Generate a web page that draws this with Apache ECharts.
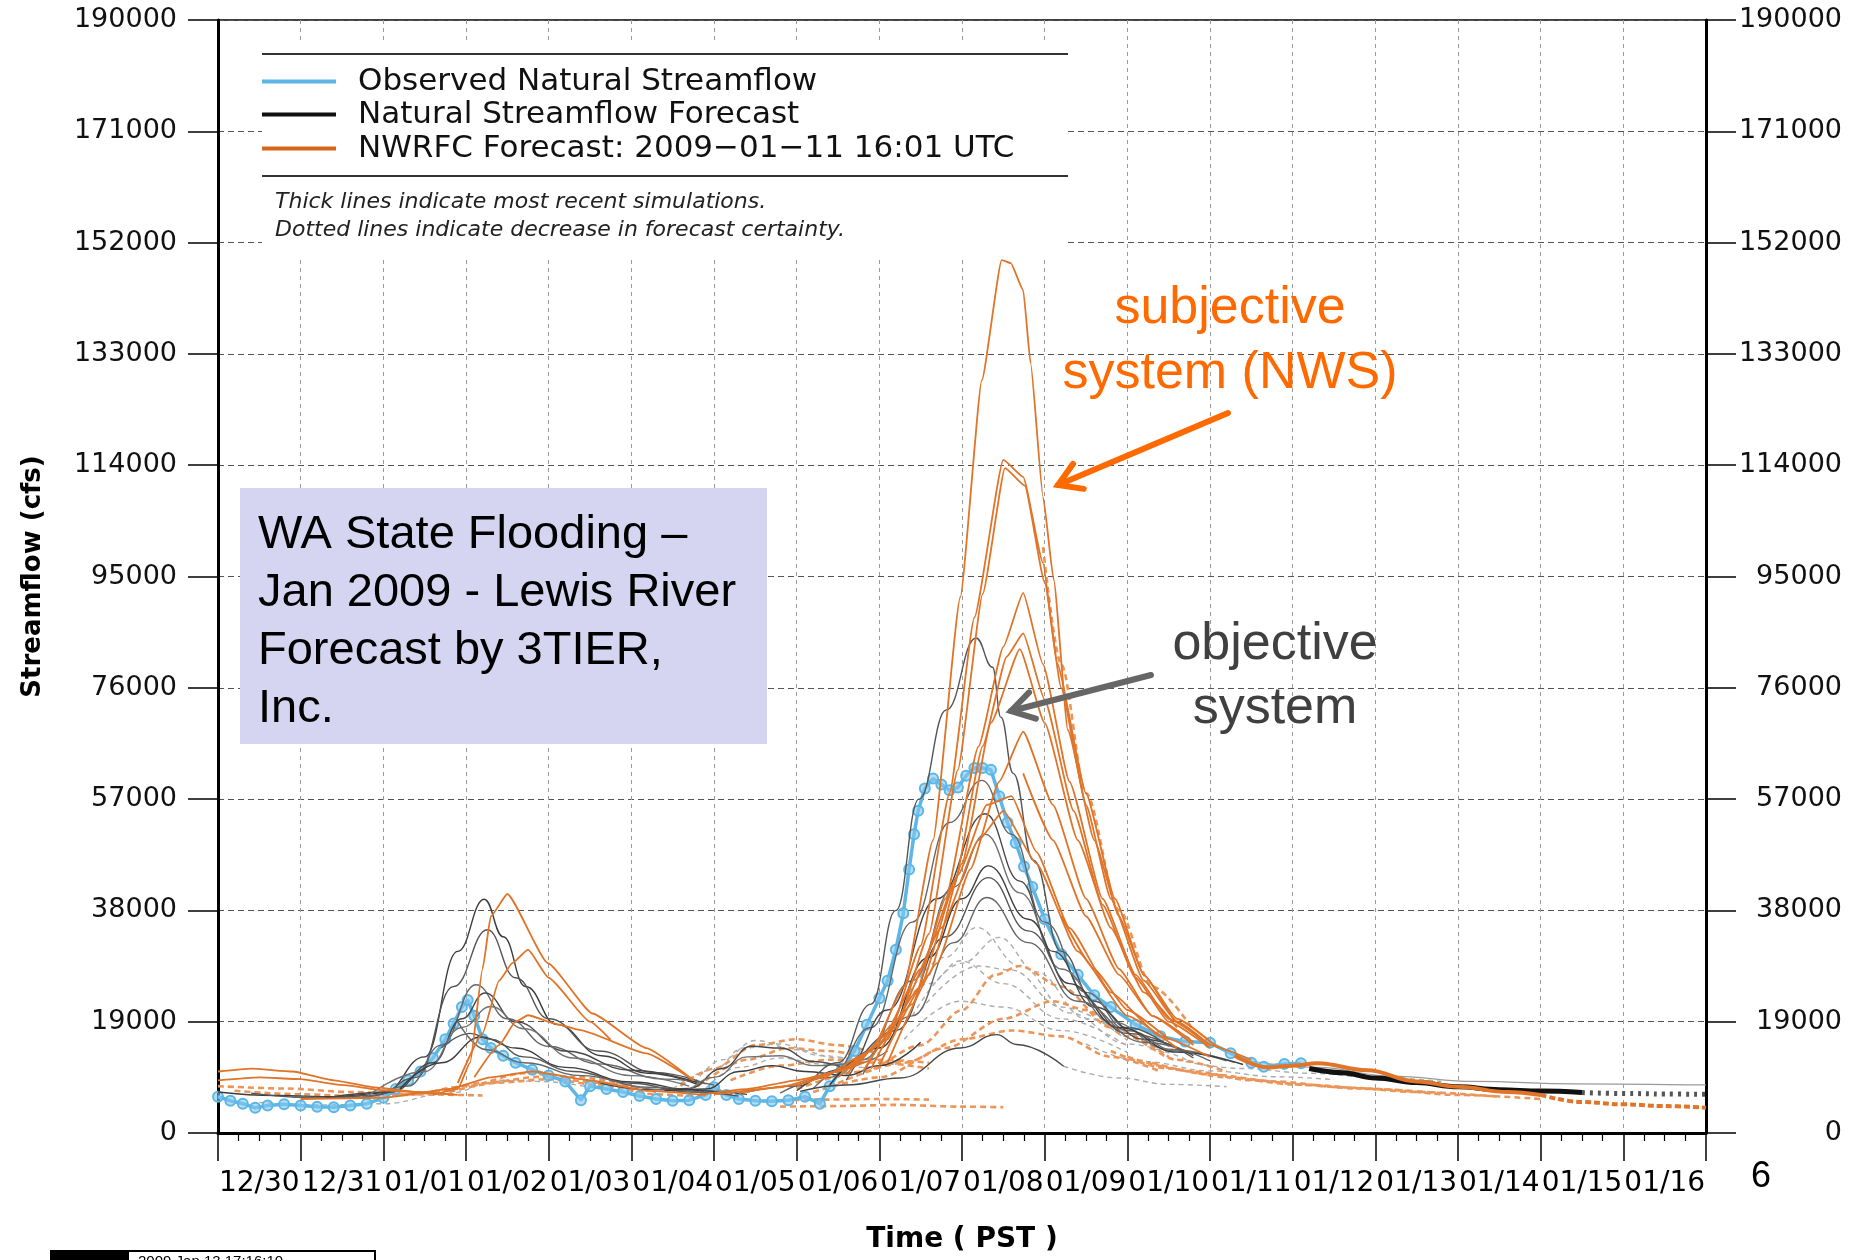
<!DOCTYPE html>
<html>
<head>
<meta charset="utf-8">
<title>Lewis River streamflow forecasts</title>
<script src="https://cdn.jsdelivr.net/npm/echarts@6/dist/echarts.min.js"></script>
<style>
  html, body { margin: 0; padding: 0; background: #fff; }
  #chart { width: 1851px; height: 1260px; }
</style>
</head>
<body>
<div id="chart"></div>
<script>
// x values are days since 12/30 00:00 PST, y values are cfs

var dayLabels = ['12/30', '12/31', '01/01', '01/02', '01/03', '01/04', '01/05', '01/06', '01/07',
                 '01/08', '01/09', '01/10', '01/11', '01/12', '01/13', '01/14', '01/15', '01/16'];

var obsFlow = [
  [0.0, 6200], [0.15, 5500], [0.3, 5000], [0.45, 4300], [0.6, 4700], [0.8, 4900], [1.0, 4700],
  [1.2, 4500], [1.4, 4400], [1.6, 4700], [1.8, 5000], [2.0, 6000], [2.15, 7500], [2.3, 9000],
  [2.45, 10500], [2.6, 12800], [2.75, 16000], [2.85, 18700], [2.95, 21500], [3.02, 22700],
  [3.1, 20000], [3.2, 16000], [3.3, 14500], [3.45, 13200], [3.6, 12000], [3.8, 10800], [4.0, 9800],
  [4.2, 8800], [4.39, 5600], [4.5, 8000], [4.7, 7500], [4.9, 7000], [5.1, 6300], [5.3, 5800],
  [5.5, 5500], [5.7, 5600], [5.9, 6500], [6.0, 7800], [6.15, 6500], [6.3, 5800], [6.5, 5500],
  [6.7, 5400], [6.9, 5600], [7.1, 6200], [7.28, 5000], [7.4, 8000], [7.55, 11000], [7.7, 14000],
  [7.85, 18500], [8.0, 23000], [8.1, 26000], [8.2, 31300], [8.29, 37500], [8.36, 45000],
  [8.42, 51000], [8.47, 55000], [8.55, 58800], [8.65, 60500], [8.75, 59500], [8.85, 58500],
  [8.95, 59000], [9.05, 61000], [9.15, 62300], [9.25, 62300], [9.35, 62000], [9.45, 57500],
  [9.55, 53000], [9.65, 49500], [9.75, 45500], [9.85, 42000], [10.0, 36500], [10.2, 30500],
  [10.4, 27000], [10.6, 23500], [10.8, 21500], [11.1, 18500], [11.4, 16500], [11.7, 15600],
  [12.0, 15400], [12.25, 13600], [12.5, 12000], [12.65, 11300], [12.9, 11800], [13.1, 11900]
];

// natural streamflow forecasts (3TIER), solid part
var natSolid = [
  [[0, 7000], [0.7, 6400], [1.4, 6200], [2.0, 6800], [2.5, 13000], [2.9, 31000], [3.22, 39900], [3.45, 33500], [3.72, 25000], [4.1, 18500], [4.64, 13200], [5.2, 10200], [5.8, 8300]],
  [[0.4, 6800], [1.2, 6000], [1.9, 6400], [2.4, 9500], [2.85, 25000], [3.26, 34700], [3.6, 26500], [4.0, 19500], [4.6, 14000], [5.3, 10300], [5.9, 8400]],
  [[0.9, 6200], [1.7, 6000], [2.3, 8000], [2.7, 15000], [3.12, 25300], [3.5, 19500], [4.0, 14800], [4.6, 11800], [5.4, 9200], [6.0, 8200]],
  [[1.3, 6000], [2.1, 7000], [2.6, 12000], [2.95, 19500], [3.23, 23900], [3.6, 19000], [4.2, 14000], [5.0, 10700], [5.8, 8600]],
  [[1.8, 6200], [2.5, 10500], [2.95, 18000], [3.3, 21600], [3.7, 17800], [4.3, 12800], [5.0, 9800], [5.7, 8000]],
  [[2.2, 7500], [2.7, 12000], [3.18, 16400], [3.6, 14500], [4.2, 11200], [5.0, 8700], [5.8, 7200], [6.4, 6600]],
  [[2.7, 14500], [3.05, 17000], [3.3, 16000], [3.7, 13000], [4.3, 10500], [5.0, 8500], [5.7, 7000], [6.3, 6300]],
  [[2.9, 19000], [3.25, 14200], [3.7, 12000], [4.4, 9800], [5.2, 7800], [5.9, 6800]],
  [[4.6, 8600], [5.2, 7400], [5.7, 7600], [6.1, 11000], [6.45, 14800], [6.8, 14500], [7.2, 12200], [7.6, 11000]],
  [[5.0, 8000], [5.6, 7200], [6.0, 9500], [6.4, 13000], [6.8, 13200], [7.2, 11500], [7.7, 11800], [8.1, 14000]],
  [[5.4, 7200], [5.9, 7500], [6.3, 10500], [6.7, 11500], [7.1, 10500], [7.6, 9800], [8.0, 11500], [8.5, 15500]],
  [[6.4, 7000], [7.0, 8000], [7.5, 12000], [7.9, 22000], [8.2, 38000], [8.48, 57000], [8.81, 72200], [9.17, 84500], [9.37, 79500], [9.47, 71000], [9.62, 61400], [9.86, 46600], [10.2, 31000], [10.6, 22500], [11.0, 18000], [11.5, 14800]],
  [[6.8, 6800], [7.4, 9500], [7.9, 18000], [8.4, 36000], [8.85, 53000], [9.24, 60200], [9.6, 51000], [10.0, 36000], [10.5, 24000], [11.0, 17500], [11.6, 14000], [12.2, 12300]],
  [[7.0, 7200], [7.6, 11000], [8.1, 21000], [8.7, 40000], [9.28, 54500], [9.7, 43000], [10.1, 31000], [10.6, 21500], [11.2, 16000], [11.8, 13200]],
  [[7.2, 7600], [7.8, 12500], [8.4, 26000], [8.9, 42000], [9.28, 51000], [9.7, 41000], [10.2, 28000], [10.8, 19000], [11.5, 14300], [12.3, 12000]],
  [[7.4, 8200], [8.0, 14500], [8.6, 30000], [9.0, 40000], [9.32, 45600], [9.8, 36500], [10.3, 25500], [10.9, 18000], [11.6, 13800], [12.4, 11700]],
  [[7.6, 9000], [8.2, 17500], [8.8, 33500], [9.32, 43600], [9.8, 34500], [10.4, 23500], [11.0, 17000], [11.8, 12800]],
  [[7.8, 10000], [8.4, 20000], [8.9, 32500], [9.3, 40200], [9.8, 32500], [10.4, 22500], [11.2, 15500], [12.0, 12300]],
  [[7.04, 7100], [7.6, 8200], [8.25, 9400], [8.98, 14500], [9.42, 16800], [9.66, 15100], [10.23, 11400]]
];

var natFaint = [
  [[12.4, 12500], [13.3, 11200], [14.2, 9700], [15.2, 8800], [16.4, 8400], [18, 8200]]
];

// natural forecasts, less certain (dotted) part
var natDotted = [
  [[10.23, 11400], [10.9, 9400], [11.5, 8300], [12.2, 7900]],
  [[8.2, 20000], [8.8, 30000], [9.18, 35100], [9.7, 28500], [10.3, 20500], [11.0, 15200], [11.8, 12000]],
  [[8.4, 20000], [9.0, 29000], [9.45, 33400], [9.9, 27500], [10.5, 19500], [11.3, 14200]],
  [[8.0, 15000], [8.6, 25500], [8.98, 29400], [9.5, 25500], [10.2, 19500], [11.0, 14800]],
  [[8.3, 16000], [8.98, 22500], [9.5, 21500], [10.2, 17500], [11.0, 13700]],
  [[8.5, 21000], [9.2, 28500], [9.6, 27800], [10.2, 21500], [11.0, 15800]],
  [[5.5, 7500], [6.0, 10800], [6.35, 14500], [6.8, 15200], [7.3, 13200], [7.8, 12200]],
  [[5.7, 7200], [6.1, 12500], [6.5, 15800], [7.0, 14200], [7.5, 12800], [8.0, 12500]],
  [[5.9, 7600], [6.3, 11200], [6.8, 12800], [7.3, 11800], [7.8, 11200], [8.3, 12500]],
  [[10.5, 15200], [11.2, 12200], [12.0, 10600], [12.8, 9600], [13.5, 9100]],
  [[0.5, 5200], [1.3, 4800], [2.0, 5000], [2.8, 6800], [3.4, 9000], [3.9, 8800], [4.5, 7800]],
  [[11.6, 12500], [12.4, 11000], [13.2, 10200], [14.0, 9500], [14.8, 8800]]
];

// NWRFC forecasts, solid part
var rfcSolid = [
  [[0, 10500], [0.4, 11000], [0.9, 10500], [1.4, 9000], [1.9, 7800], [2.4, 7000], [2.9, 6500]],
  [[0, 9000], [0.5, 9500], [1.0, 9200], [1.5, 8200], [2.0, 7300], [2.6, 6800]],
  [[2.6, 6500], [2.9, 7500], [3.05, 12000], [3.2, 28000], [3.3, 37000], [3.5, 40800], [3.99, 29000], [4.53, 20400], [5.18, 14500], [5.75, 9000]],
  [[2.9, 8500], [3.2, 17000], [3.4, 26000], [3.56, 29000], [3.75, 31300], [4.0, 26500], [4.5, 19000], [4.75, 15900]],
  [[3.1, 9500], [3.4, 15000], [3.6, 19000], [3.75, 20100], [4.1, 18600], [4.37, 17600], [5.18, 13600], [5.75, 9000]],
  [[1.0, 5800], [2.0, 6000], [2.8, 7500], [3.3, 9500], [3.8, 10500], [4.5, 9000], [5.2, 7200], [5.9, 6500]],
  [[5.8, 6500], [6.4, 7500], [7.0, 9000], [7.5, 10500], [7.9, 12500]],
  [[7.3, 9000], [7.9, 14000], [8.3, 25000], [8.65, 50000], [8.98, 91500], [9.24, 128500], [9.48, 149000], [9.59, 148500], [9.74, 143900], [9.83, 131400], [9.98, 108600], [10.11, 94400], [10.28, 68800], [10.6, 50000], [10.9, 37000], [11.2, 27000], [11.6, 19000], [12.0, 15000], [12.5, 12500]],
  [[7.5, 9500], [8.1, 16000], [8.5, 32000], [8.85, 58000], [9.15, 88000], [9.5, 114900], [9.74, 112000], [9.98, 97300], [10.15, 80200], [10.5, 58000], [10.85, 40000], [11.2, 27000], [11.6, 19500], [12.1, 14500]],
  [[7.6, 10000], [8.2, 18000], [8.6, 34000], [8.95, 62000], [9.25, 92000], [9.52, 113500], [9.76, 110500], [10.0, 94000], [10.2, 76000], [10.5, 56000], [10.8, 40000], [11.2, 26000], [11.6, 19000], [12.0, 15000]],
  [[7.8, 10500], [8.4, 22000], [8.8, 40000], [9.2, 66000], [9.5, 83000], [9.74, 92200], [9.98, 80000], [10.3, 60000], [10.7, 40000], [11.1, 27000], [11.5, 19500], [12.0, 15000]],
  [[7.9, 11000], [8.5, 25000], [8.9, 42000], [9.25, 66000], [9.54, 81300], [9.74, 85300], [10.0, 74000], [10.35, 55000], [10.7, 39000], [11.1, 26500], [11.5, 19000], [12.0, 14500]],
  [[8.0, 11500], [8.6, 27000], [9.0, 46000], [9.35, 70000], [9.7, 82600], [10.0, 70000], [10.4, 50000], [10.8, 35000], [11.2, 24000], [11.6, 18000]],
  [[8.1, 12000], [8.7, 29000], [9.1, 45000], [9.45, 60000], [9.74, 68500], [10.1, 56000], [10.5, 40000], [10.9, 28000], [11.3, 20000], [11.8, 15500]],
  [[9.74, 61400], [10.1, 50000], [10.5, 37000], [10.9, 27000], [11.3, 20000], [11.8, 15000]],
  [[10.2, 37000], [10.6, 28000], [11.0, 21000], [11.5, 16000]],
  [[6.0, 6600], [6.8, 7800], [7.5, 10500], [8.0, 15000], [8.5, 28000], [8.95, 44000], [9.3, 56000], [9.6, 57500], [9.9, 48000], [10.3, 35000], [10.8, 24000], [11.4, 16500], [12.0, 13000]],
  [[6.3, 6800], [7.0, 8200], [7.7, 11500], [8.2, 19000], [8.75, 35000], [9.2, 50000], [9.5, 55000], [9.9, 46000], [10.4, 31000], [11.0, 20000], [11.6, 14500]]
];

// NWRFC forecasts, dotted part
var rfcDotted = [
  [[0.2, 7200], [1.0, 6600], [1.8, 6200], [2.5, 6800], [3.2, 8500], [3.9, 9600], [4.6, 8600], [5.3, 7000]],
  [[1.5, 6000], [2.3, 6500], [3.0, 8000], [3.7, 10200], [4.3, 9600], [5.0, 8100]],
  [[2.8, 7000], [3.4, 8600], [4.0, 9200], [4.6, 8200], [5.3, 6600], [5.9, 6100]],
  [[0, 8000], [0.8, 7600], [1.6, 7000], [2.4, 6600], [3.2, 6400]],
  [[5.5, 7000], [6.0, 11000], [6.5, 15000], [7.0, 16000], [7.5, 15000], [8.0, 13500]],
  [[5.8, 8000], [6.4, 12500], [6.9, 14500], [7.4, 14000], [8.0, 12500], [8.6, 12000]],
  [[6.2, 9000], [6.8, 11500], [7.4, 12500], [8.0, 12000], [8.6, 11000]],
  [[6.8, 4500], [7.5, 4600], [8.2, 4800], [9.0, 4500], [9.5, 4400]],
  [[6.6, 5500], [7.3, 5700], [8.0, 5800], [8.6, 5700]],
  [[7.0, 7500], [7.8, 10500], [8.5, 15000], [9.0, 21000], [9.4, 27000], [9.7, 28500], [10.2, 25000], [10.8, 18000], [11.5, 13000]],
  [[7.2, 7000], [8.0, 9500], [8.8, 14500], [9.5, 19500], [10.1, 22500], [10.5, 21000], [11.0, 16500], [11.6, 12500], [12.2, 10500]],
  [[7.5, 8500], [8.3, 12000], [9.0, 16000], [9.6, 17500], [10.2, 16500], [10.8, 13000], [11.4, 10500]],
  [[9.98, 100000], [10.2, 80000], [10.5, 58000], [10.9, 38000], [11.3, 25000], [11.8, 17500]],
  [[11.0, 13000], [11.8, 10500], [12.5, 9000], [13.2, 8200], [14.0, 7500], [15.0, 6500], [16.0, 5800]],
  [[11.3, 12000], [12.0, 10000], [12.8, 8800], [13.6, 7800], [14.5, 7000], [15.5, 6200]],
  [[10.8, 14000], [11.5, 11000], [12.2, 9500], [13.0, 8300], [13.8, 7600], [14.8, 6800]]
];

// most recent simulations (thick lines)
var natLatest = [[13.2, 11000], [13.6, 10300], [14.0, 9400], [14.5, 8600], [15.0, 7900], [15.5, 7400], [16.0, 7150], [16.5, 6900]];
var natLatestTail = [[16.5, 6900], [17.0, 6750], [17.5, 6650], [18.0, 6600]];
var rfcLatest = [[12.3, 13200], [12.7, 11200], [13.0, 11500], [13.3, 11900], [13.9, 10700], [14.5, 8800], [15.0, 7900], [15.6, 7000], [16.0, 6500]];
var rfcLatestTail = [[16.0, 6500], [16.5, 5300], [17.0, 4900], [17.5, 4600], [18.0, 4300]];

var BLUE = '#5cb6e6';
var ORANGE = '#e07428';
var ORANGE_LIGHT = '#eb9558';
var GRAYS = ['#3c3c3c', '#555555', '#666666', '#484848', '#727272'];

function makeLine(data, color, width, dash, smooth, z) {
  return {
    type: 'line', data: data, xAxisIndex: 0, yAxisIndex: 0,
    symbol: 'none', showSymbol: false, smooth: smooth, smoothMonotone: 'x',
    z: z, silent: true, emphasis: { disabled: true },
    lineStyle: { color: color, width: width, type: dash }
  };
}

var series = [];
natDotted.forEach(function (d) { series.push(makeLine(d, '#acacac', 1.4, [5, 4], 0.4, 2)); });
natFaint.forEach(function (d) { series.push(makeLine(d, '#9a9a9a', 1.2, 'solid', 0.4, 2)); });
rfcDotted.forEach(function (d) { series.push(makeLine(d, ORANGE_LIGHT, 2.6, [6, 4], 0.3, 3)); });
series.push({
  type: 'line', name: 'Observed Natural Streamflow', data: obsFlow, xAxisIndex: 0, yAxisIndex: 0,
  symbol: 'circle', symbolSize: 10, showAllSymbol: true, z: 4, silent: true,
  emphasis: { disabled: true },
  lineStyle: { color: BLUE, width: 3.5 },
  itemStyle: { color: 'rgba(130,200,240,0.6)', borderColor: BLUE, borderWidth: 2 }
});
natSolid.forEach(function (d, i) { series.push(makeLine(d, GRAYS[i % GRAYS.length], 1.4, 'solid', 0.45, 5)); });
rfcSolid.forEach(function (d) { series.push(makeLine(d, ORANGE, 1.8, 'solid', 0.15, 6)); });
series.push(makeLine(natLatest, '#111111', 5, 'solid', 0.4, 7));
series.push(makeLine(natLatestTail, '#555555', 5, [3, 5], 0.4, 7));
series.push(makeLine(rfcLatest, ORANGE, 4, 'solid', 0.4, 8));
series.push(makeLine(rfcLatestTail, ORANGE, 4, [6, 3], 0.4, 8));

// arrow as a shaft plus an open chevron head
function arrow(x1, y1, x2, y2, color, w) {
  var ang = Math.atan2(y1 - y2, x1 - x2);
  var len = 26, spread = 0.55;
  var p1 = [x2 + len * Math.cos(ang + spread), y2 + len * Math.sin(ang + spread)];
  var p2 = [x2 + len * Math.cos(ang - spread), y2 + len * Math.sin(ang - spread)];
  return [
    { type: 'line', z: 120, shape: { x1: x1, y1: y1, x2: x2, y2: y2 }, style: { stroke: color, lineWidth: w, lineCap: 'round' } },
    { type: 'polyline', z: 120, shape: { points: [p1, [x2, y2], p2] }, style: { stroke: color, lineWidth: w, fill: null, lineCap: 'round', lineJoin: 'miter' } }
  ];
}

function label(text, x, y, font, fill, align) {
  return { type: 'text', z: 120, style: { text: text, x: x, y: y, font: font, fill: fill, textAlign: align || 'left', textVerticalAlign: 'middle' } };
}

var gfx = [];
// legend panel
gfx.push({ type: 'rect', z: 100, shape: { x: 262, y: 40, width: 806, height: 218 }, style: { fill: '#fff' } });
gfx.push({ type: 'line', z: 101, shape: { x1: 262, y1: 54, x2: 1068, y2: 54 }, style: { stroke: '#333', lineWidth: 2 } });
gfx.push({ type: 'line', z: 101, shape: { x1: 262, y1: 176, x2: 1068, y2: 176 }, style: { stroke: '#333', lineWidth: 2 } });
var legendRows = [
  ['Observed Natural Streamflow', BLUE, 81.5],
  ['Natural Streamflow Forecast', '#111', 114.5],
  ['NWRFC Forecast: 2009\u221201\u221211 16:01 UTC', '#d8671a', 148.5]
];
legendRows.forEach(function (r) {
  gfx.push({ type: 'line', z: 101, shape: { x1: 262, y1: r[2], x2: 336, y2: r[2] }, style: { stroke: r[1], lineWidth: 4 } });
  gfx.push(label(r[0], 358, r[2], '31px "DejaVu Sans"', '#111'));
});
gfx.push(label('Thick lines indicate most recent simulations.', 275, 202, 'oblique 22px "DejaVu Sans"', '#222'));
gfx.push(label('Dotted lines indicate decrease in forecast certainty.', 275, 230, 'oblique 22px "DejaVu Sans"', '#222'));

// title box
gfx.push({ type: 'rect', z: 110, shape: { x: 240, y: 488, width: 527, height: 256 }, style: { fill: '#d5d5f1' } });
['WA State Flooding \u2013', 'Jan 2009 - Lewis River', 'Forecast by 3TIER,', 'Inc.'].forEach(function (t, i) {
  gfx.push(label(t, 258, 535 + i * 58, '47px "Liberation Sans"', '#000'));
});

// annotations
gfx.push(label('subjective', 1230, 309, '52px "Liberation Sans"', '#ff6a00', 'center'));
gfx.push(label('system (NWS)', 1230, 374, '52px "Liberation Sans"', '#ff6a00', 'center'));
gfx = gfx.concat(arrow(1228, 413, 1058, 485, '#ff6a00', 6));
gfx.push(label('objective', 1275, 645, '52px "Liberation Sans"', '#404040', 'center'));
gfx.push(label('system', 1275, 709, '52px "Liberation Sans"', '#404040', 'center'));
gfx = gfx.concat(arrow(1151, 675, 1011, 711, '#666666', 6));

gfx.push(label('6', 1761, 1177, '36px "Liberation Sans"', '#000', 'center'));

// stamp box cut by the bottom edge
gfx.push({ type: 'rect', z: 100, shape: { x: 50, y: 1250, width: 78, height: 14 }, style: { fill: '#000' } });
gfx.push({ type: 'rect', z: 100, shape: { x: 128, y: 1251, width: 247, height: 14 }, style: { fill: 'none', stroke: '#000', lineWidth: 2 } });
gfx.push({ type: 'text', z: 101, style: { text: '2009 Jan 13 17:16:10', x: 138, y: 1254, font: '15px "Liberation Sans"', fill: '#000', textVerticalAlign: 'top' } });

var chart = echarts.init(document.getElementById('chart'), null, { renderer: 'canvas' });

var option = {
  animation: false,
  backgroundColor: '#fff',
  grid: { left: 218, right: 145, top: 20, bottom: 127, show: true, borderColor: '#000', borderWidth: 1.5 },
  xAxis: [
    {
      type: 'value', min: 0, max: 18, interval: 1, position: 'bottom',
      axisLine: { show: true, onZero: false, lineStyle: { color: '#000', width: 3 } },
      axisTick: { show: true, inside: false, length: 28, lineStyle: { color: '#000', width: 1.5 } },
      minorTick: { show: true, splitNumber: 4, length: 8, lineStyle: { color: '#000', width: 1.2 } },
      axisLabel: { show: false },
      splitLine: { show: true, lineStyle: { color: '#9a9a9a', width: 1, type: [4, 4] } }
    },
    {
      type: 'category', data: dayLabels, position: 'bottom', boundaryGap: true,
      axisLine: { show: false }, axisTick: { show: false }, splitLine: { show: false },
      axisLabel: { interval: 0, margin: 37, color: '#000', fontFamily: 'DejaVu Sans', fontSize: 28 },
      name: 'Time ( PST )', nameLocation: 'middle', nameGap: 93,
      nameTextStyle: { fontFamily: 'DejaVu Sans', fontWeight: 'bold', fontSize: 28, color: '#000' }
    }
  ],
  yAxis: [
    {
      type: 'value', min: 0, max: 190000, interval: 19000, position: 'left',
      axisLine: { show: true, onZero: false, lineStyle: { color: '#000', width: 3 } },
      axisTick: { show: true, length: 30, lineStyle: { color: '#000', width: 1.5 } },
      axisLabel: { margin: 41, formatter: function (v) { return String(v); }, fontFamily: 'DejaVu Sans', fontSize: 27, color: '#111', showMinLabel: true, showMaxLabel: true },
      splitLine: { show: true, lineStyle: { color: '#555', width: 1.2, type: [6, 4] } },
      name: 'Streamflow (cfs)', nameLocation: 'middle', nameGap: 172, nameRotate: 90,
      nameTextStyle: { fontFamily: 'DejaVu Sans', fontWeight: 'bold', fontSize: 26, color: '#000' }
    },
    {
      type: 'value', min: 0, max: 190000, interval: 19000, position: 'right',
      axisLine: { show: true, onZero: false, lineStyle: { color: '#000', width: 3 } },
      axisTick: { show: true, length: 30, lineStyle: { color: '#000', width: 1.5 } },
      axisLabel: { margin: 136, align: 'right', formatter: function (v) { return String(v); }, fontFamily: 'DejaVu Sans', fontSize: 27, color: '#111', showMinLabel: true, showMaxLabel: true },
      splitLine: { show: false }
    }
  ],
  graphic: gfx,
  series: series
};

chart.setOption(option);
</script>
</body>
</html>
